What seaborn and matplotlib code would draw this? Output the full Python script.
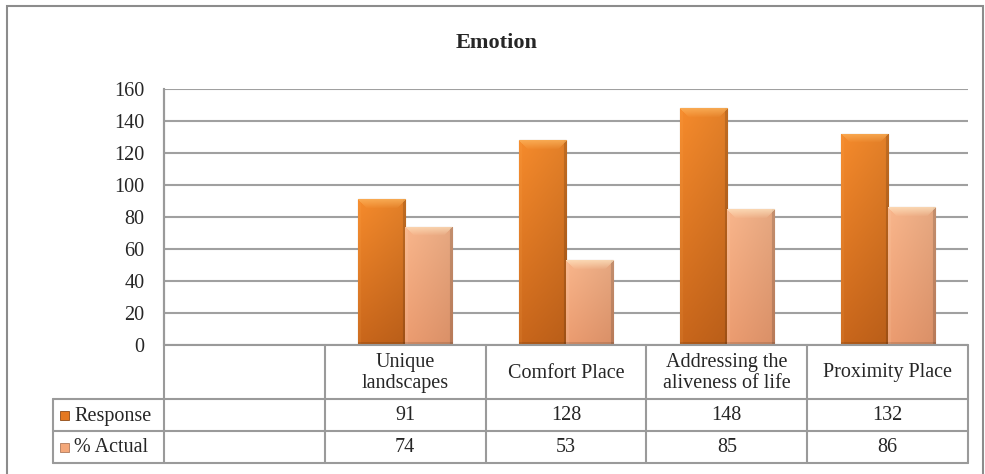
import numpy as np
import pandas as pd
import matplotlib
matplotlib.use("Agg")
import matplotlib.pyplot as plt
import seaborn as sns
from matplotlib.lines import Line2D
from matplotlib.patches import Rectangle
from matplotlib.colors import to_rgb

# ---------------- data ----------------
categories = ["", "Unique\nlandscapes", "Comfort Place", "Addressing the\naliveness of life", "Proximity Place"]
series_names = ["Response", "% Actual"]
response = [np.nan, 91, 128, 148, 132]
actual = [np.nan, 74, 53, 85, 86]
yticks = [0, 20, 40, 60, 80, 100, 120, 140, 160]
title = "Emotion"

colors = {"Response": "#E57820", "% Actual": "#F4A87A"}
top_c = {"Response": "#F68B2C", "% Actual": "#F9B68C"}
bot_c = {"Response": "#C9661B", "% Actual": "#EC9C70"}
light = {"Response": "#FBB45E", "% Actual": "#FDE2BF"}
dark = {"Response": "#8E4A16", "% Actual": "#B07A5C"}

# ---------------- figure ----------------
W, H = 985, 474
sns.set_style("white")
plt.rcParams["font.family"] = ["Liberation Serif", "DejaVu Serif"]
fig = plt.figure(figsize=(W / 100, H / 100), dpi=100)

def fx(px):
    return px / W

def fy(py):
    return 1 - py / H

AX_L, AX_R, AX_T, AX_B = 164, 968, 89, 345
ax = fig.add_axes([fx(AX_L), fy(AX_B), fx(AX_R - AX_L), (AX_B - AX_T) / H])

rows = []
for c, r, a in zip(categories, response, actual):
    if not np.isnan(r):
        rows.append({"Category": c, "Series": "Response", "Value": r})
    if not np.isnan(a):
        rows.append({"Category": c, "Series": "% Actual", "Value": a})
df = pd.DataFrame(rows)

sns.barplot(data=df, x="Category", y="Value", hue="Series", order=categories,
            hue_order=series_names, palette=[colors[s] for s in series_names],
            width=0.585, errorbar=None, legend=False, ax=ax, saturation=1,
            linewidth=0)

ax.set_xlim(-0.5, len(categories) - 0.5)
ax.set_ylim(0, 160)
ax.set_yticks(yticks)
ax.set_yticklabels([str(t) for t in yticks], fontsize=14.5)
ax.set_xticks([])
ax.set_xlabel("")
ax.set_ylabel("")
ax.tick_params(axis="y", length=0, pad=14)
for s in ["top", "right", "bottom"]:
    ax.spines[s].set_visible(False)
ax.spines["left"].set_color("#9a9a9a")
ax.spines["left"].set_linewidth(1.5)
ax.yaxis.grid(True, color="#a0a0a0", linewidth=1.5)
ax.set_axisbelow(True)

# gradient fill on bars
fig.canvas.draw()
bars = [p for p in ax.patches if isinstance(p, Rectangle) and p.get_height() > 0]
for p in bars:
    fc = p.get_facecolor()[:3]
    sname = min(series_names, key=lambda s: np.sum((np.array(to_rgb(colors[s])) - np.array(fc)) ** 2))
    tc = np.array(to_rgb(top_c[sname]))
    bc = np.array(to_rgb(bot_c[sname]))
    lt = np.array(to_rgb(light[sname]))
    dk = np.array(to_rgb(dark[sname]))
    x0, y0 = p.get_x(), p.get_y()
    w, h = p.get_width(), p.get_height()
    bb = p.get_window_extent()
    npx_w = max(int(round(bb.width)), 2)
    npx_h = max(int(round(bb.height)), 2)
    ys = np.linspace(0, 1, npx_h)[:, None, None]  # 0 top, 1 bottom
    xs = np.linspace(0, 1, npx_w)[None, :, None]
    col = tc * (1 - ys) + bc * ys
    # subtle horizontal shading: slightly darker towards the right
    col = col * (1 - 0.08 * xs)
    img = np.broadcast_to(col, (npx_h, npx_w, 3)).copy()
    # side bevels
    sb = 3
    img[:, :sb] = img[:, :sb] * 0.9 + lt * 0.1
    img[:, -sb:] = img[:, -sb:] * 0.85
    img[-sb:, :] = img[-sb:, :] * 0.88
    # top bevel (trapezoid)
    bev = 9
    for j in range(min(bev, npx_h)):
        f = 1 - j / bev
        seg = img[j, j:npx_w - j]
        img[j, j:npx_w - j] = seg * (1 - 0.75 * f) + lt * (0.75 * f) if f > 0 else seg
    img = np.clip(img, 0, 1)
    im = ax.imshow(img, extent=[x0, x0 + w, y0, y0 + h], aspect="auto",
                   zorder=p.get_zorder() + 0.1, interpolation="bilinear")
    im.set_clip_path(p)
    p.set_edgecolor(dark[sname])
    p.set_linewidth(0.8)
ax.set_xlim(-0.5, len(categories) - 0.5)
ax.set_ylim(0, 160)

# ---------------- title ----------------
fig.text(fx(497), fy(43), title, ha="center", va="center", fontsize=16, fontweight="bold")

# ---------------- outer frame ----------------
fig.add_artist(Rectangle((fx(7), fy(H + 20)), fx(983 - 7), (H + 20 - 6) / H,
                         fill=False, edgecolor="#8c8c8c", linewidth=1.5,
                         transform=fig.transFigure))

# ---------------- data table ----------------
grid_c = "#9a9a9a"
lw = 1.5
ROW_CAT_B = 399
ROW_R_B = 431
ROW_A_B = 463
HDR_L = 53
ncat = len(categories)
col_w = (AX_R - AX_L) / ncat
col_edges = [AX_L + i * col_w for i in range(ncat + 1)]

def hline(x1, x2, y):
    fig.add_artist(Line2D([fx(x1), fx(x2)], [fy(y), fy(y)], color=grid_c, lw=lw,
                          transform=fig.transFigure))

def vline(x, y1, y2):
    fig.add_artist(Line2D([fx(x), fx(x)], [fy(y1), fy(y2)], color=grid_c, lw=lw,
                          transform=fig.transFigure))

hline(AX_L, AX_R, AX_B)
hline(HDR_L, AX_R, ROW_CAT_B)
hline(HDR_L, AX_R, ROW_R_B)
hline(HDR_L, AX_R, ROW_A_B)
vline(HDR_L, ROW_CAT_B, ROW_A_B)
for i, xe in enumerate(col_edges):
    vline(xe, AX_B if i > 0 else AX_T, ROW_A_B)

fs = 14.5
for i, c in enumerate(categories):
    cx = (col_edges[i] + col_edges[i + 1]) / 2
    fig.text(fx(cx), fy((AX_B + ROW_CAT_B) / 2 + 1), c, ha="center", va="center",
             fontsize=fs, linespacing=1.1)
    rv = response[i]
    av = actual[i]
    if not np.isnan(rv):
        fig.text(fx(cx), fy((ROW_CAT_B + ROW_R_B) / 2 + 1), f"{int(rv)}", ha="center", va="center", fontsize=fs)
    if not np.isnan(av):
        fig.text(fx(cx), fy((ROW_R_B + ROW_A_B) / 2 + 1), f"{int(av)}", ha="center", va="center", fontsize=fs)

row_centers = [(ROW_CAT_B + ROW_R_B) / 2, (ROW_R_B + ROW_A_B) / 2]
for s, yc in zip(series_names, row_centers):
    sq = 9
    fig.add_artist(Rectangle((fx(60), fy(yc + sq / 2)), fx(sq), sq / H,
                             facecolor=colors[s], edgecolor=dark[s], linewidth=0.6,
                             transform=fig.transFigure))
    fig.text(fx(74), fy(yc + 1), s, ha="left", va="center", fontsize=fs)

fig.savefig("out.png", dpi=100)
